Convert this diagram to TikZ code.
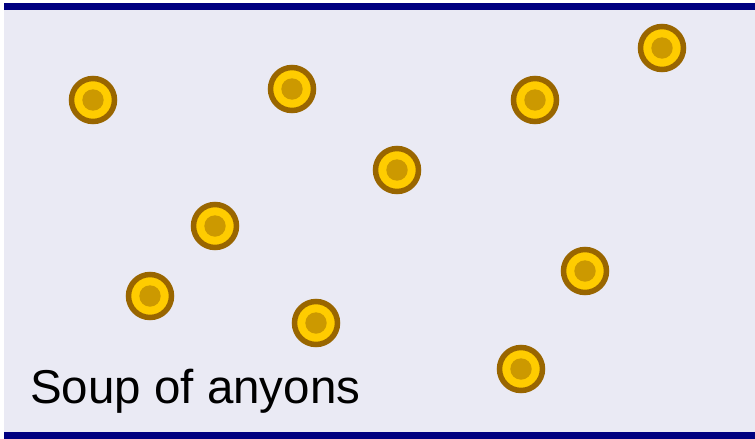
\documentclass[tikz,border=0pt]{standalone}
\usepackage{fontspec}
\setmainfont{Liberation Sans}
\usetikzlibrary{positioning}
\definecolor{Navy}{RGB}{0,0,128}
\definecolor{Lavender}{RGB}{234,234,244}
\definecolor{RingBrown}{RGB}{153,102,0}
\definecolor{Gold}{RGB}{255,204,0}
\definecolor{CoreGold}{RGB}{204,153,0}
\tikzset{
  anyon/.style={circle,draw=RingBrown,line width=5.5pt,fill=Gold,minimum size=43pt,inner sep=0pt,
    path picture={\fill[CoreGold] (path picture bounding box.center) circle (10.7pt);}},
  bar/.style={fill=Navy},
  caption/.style={font=\fontsize{47.5}{52}\selectfont,text=black,anchor=base west,inner sep=0pt}
}
\begin{document}
\begin{tikzpicture}[x=1pt,y=-1pt]
  \useasboundingbox (0,0) rectangle (755,439);
  \fill[Lavender] (4,3) rectangle (755,439);
  \fill[bar] (4,3) rectangle (755,10);
  \fill[bar] (4,432) rectangle (755,439);
  \foreach \i/\x/\y in {1/93/100,2/292/89,3/535/100,4/662/48,5/397/170,
                        6/215/226,7/150/296,8/316/323,9/585/271,10/521/369}
    \node[anyon] (a\i) at (\x,\y) {};
  \node[caption] (soup) at (30,403) {Soup of anyons};
\end{tikzpicture}
\end{document}
